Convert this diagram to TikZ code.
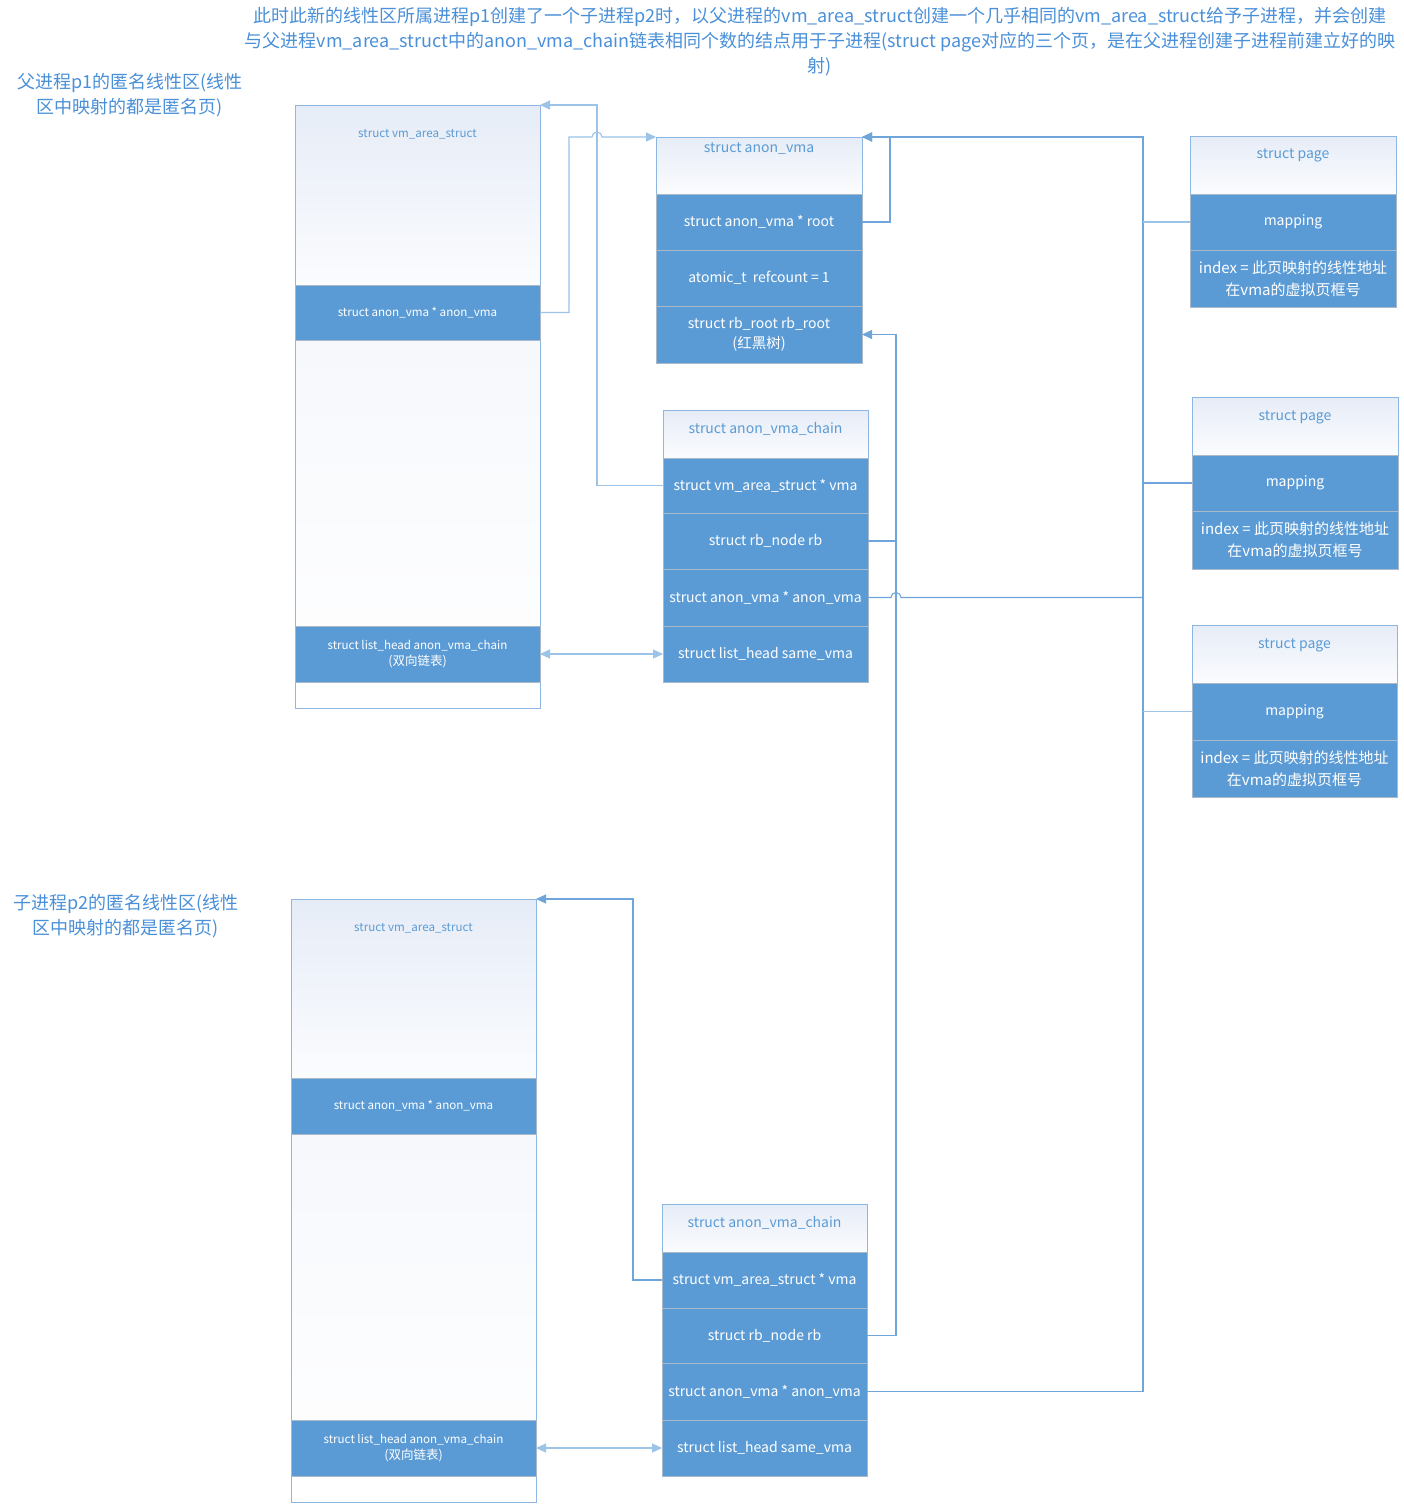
\documentclass[tikz,border=0pt]{standalone}
\usepackage{fontspec}
\setmainfont{Noto Sans CJK SC}
\usetikzlibrary{arrows.meta,calc}
\definecolor{rowblue}{HTML}{5B9BD5}
\definecolor{rowbd}{HTML}{AAB9CA}
\definecolor{bordc}{HTML}{8DB6E2}
\definecolor{hdrA}{HTML}{E6ECF7}
\definecolor{hdrB}{HTML}{FBFCFE}
\definecolor{titc}{HTML}{5B9BD5}
\definecolor{lnc}{HTML}{6FA5DA}
\definecolor{lnl}{HTML}{9CC3E8}
\definecolor{notec}{HTML}{4A90D9}
\newcommand{\szS}{\fontsize{11.6}{16}\selectfont}
\newcommand{\szSc}{\fontsize{12.5}{16}\selectfont}
\newcommand{\szM}{\fontsize{14}{20}\selectfont}
\newcommand{\szMc}{\fontsize{14.5}{20}\selectfont}
\newcommand{\szL}{\fontsize{15}{22}\selectfont}
\newcommand{\szX}{\fontsize{18}{25}\selectfont}
\tikzset{
 box/.style={anchor=north west, inner sep=0pt, outer sep=0pt},
 outer/.style={box, draw=bordc, line width=1pt, top color=hdrA!60, bottom color=white},
 hdr/.style={box, draw=bordc, line width=1pt, top color=hdrA, bottom color=hdrB},
 row/.style={box, draw=rowbd, line width=1pt, fill=rowblue, text=white, align=center},
 ttl/.style={text=titc, inner sep=0pt},
 conn/.style={draw=lnc, line width=1.1pt},
 connl/.style={draw=lnl, line width=1.1pt},
 tip/.style={-{Triangle[length=10pt,width=9pt]}},
 dtip/.style={{Triangle[length=10pt,width=9pt]}-{Triangle[length=10pt,width=9pt]}},
}
\begin{document}
\begin{tikzpicture}[x=1pt,y=-1pt]
\useasboundingbox (0,0) rectangle (1404,1504);
\fill[white] (0,0) rectangle (1404,1504);

% ---------- texts ----------
\node[text=notec, align=center, font=\szX, inner sep=0pt] (note) at (820,42)
 {此时此新的线性区所属进程p1创建了一个子进程p2时，以父进程的vm\_area\_struct创建一个几乎相同的vm\_area\_struct给予子进程，并会创建\\
  与父进程vm\_area\_struct中的anon\_vma\_chain链表相同个数的结点用于子进程(struct page对应的三个页，是在父进程创建子进程前建立好的映\\
  射)};
\node[text=notec, align=center, font=\szX, inner sep=0pt] (lblp) at (130,95)
 {父进程p1的匿名线性区(线性\\区中映射的都是匿名页)};
\node[text=notec, align=center, font=\szX, inner sep=0pt] (lblc) at (126,916)
 {子进程p2的匿名线性区(线性\\区中映射的都是匿名页)};

% ---------- parent vm_area_struct ----------
\node[outer, minimum width=245, minimum height=603] (pvma) at (295,105) {};
\node[hdr, minimum width=245, minimum height=180] (pvh) at (295,105) {};
\node[ttl, font=\szS] (pvt) at ([yshift=-29pt]pvh.north) {struct vm\_area\_struct};
\node[row, font=\szS, minimum width=245, minimum height=55] (pva) at (295,285) {struct anon\_vma * anon\_vma};
\node[row, font=\szS, minimum width=245, minimum height=56] (pvl) at (295,626) {struct list\_head anon\_vma\_chain\\{\szSc(双向链表)}};

% ---------- anon_vma ----------
\node[hdr, minimum width=206, minimum height=57] (avh) at (656,137) {};
\node[ttl, font=\szM] (avt) at ([yshift=-12pt]avh.north) {struct anon\_vma};
\node[row, font=\szM, minimum width=206, minimum height=56] (avroot) at (656,194) {struct anon\_vma * root};
\node[row, font=\szM, minimum width=206, minimum height=56] (avref) at (656,250) {atomic\_t\ \ refcount = 1};
\node[row, font=\szM, minimum width=206, minimum height=57] (avrb) at (656,306) {struct rb\_root rb\_root\\{\szMc(红黑树)}};

% ---------- parent anon_vma_chain ----------
\node[hdr, minimum width=205, minimum height=48] (c1h) at (663,410) {};
\node[ttl, font=\szM] (c1t) at ([yshift=-19pt]c1h.north) {struct anon\_vma\_chain};
\node[row, font=\szM, minimum width=205, minimum height=55] (c1vma) at (663,458) {struct vm\_area\_struct * vma};
\node[row, font=\szM, minimum width=205, minimum height=56] (c1rb) at (663,513) {struct rb\_node rb};
\node[row, font=\szM, minimum width=205, minimum height=57] (c1av) at (663,569) {struct anon\_vma * anon\_vma};
\node[row, font=\szM, minimum width=205, minimum height=56] (c1same) at (663,626) {struct list\_head same\_vma};

% ---------- pages ----------
\node[hdr, minimum width=206, minimum height=58] (p1h) at (1190,136) {};
\node[ttl, font=\szM] (p1t) at ([yshift=-19pt]p1h.north) {struct page};
\node[row, font=\szM, minimum width=206, minimum height=56] (p1map) at (1190,194) {mapping};
\node[row, font=\szL, minimum width=206, minimum height=57] (p1idx) at (1190,250) {index = 此页映射的线性地址\\在vma的虚拟页框号};

\node[hdr, minimum width=206, minimum height=58] (p2h) at (1192,397) {};
\node[ttl, font=\szM] (p2t) at ([yshift=-20pt]p2h.north) {struct page};
\node[row, font=\szM, minimum width=206, minimum height=56] (p2map) at (1192,455) {mapping};
\node[row, font=\szL, minimum width=206, minimum height=58] (p2idx) at (1192,511) {index = 此页映射的线性地址\\在vma的虚拟页框号};

\node[hdr, minimum width=205, minimum height=58] (p3h) at (1192,625) {};
\node[ttl, font=\szM] (p3t) at ([yshift=-20pt]p3h.north) {struct page};
\node[row, font=\szM, minimum width=205, minimum height=57] (p3map) at (1192,683) {mapping};
\node[row, font=\szL, minimum width=205, minimum height=57] (p3idx) at (1192,740) {index = 此页映射的线性地址\\在vma的虚拟页框号};

% ---------- child vm_area_struct ----------
\node[outer, minimum width=245, minimum height=603] (cvma) at (291,899) {};
\node[hdr, minimum width=245, minimum height=179] (cvh) at (291,899) {};
\node[ttl, font=\szS] (cvt) at ([yshift=-29pt]cvh.north) {struct vm\_area\_struct};
\node[row, font=\szS, minimum width=245, minimum height=56] (cva) at (291,1078) {struct anon\_vma * anon\_vma};
\node[row, font=\szS, minimum width=245, minimum height=56] (cvl) at (291,1420) {struct list\_head anon\_vma\_chain\\{\szSc(双向链表)}};

% ---------- child anon_vma_chain ----------
\node[hdr, minimum width=205, minimum height=48] (c2h) at (662,1204) {};
\node[ttl, font=\szM] (c2t) at ([yshift=-19pt]c2h.north) {struct anon\_vma\_chain};
\node[row, font=\szM, minimum width=205, minimum height=56] (c2vma) at (662,1252) {struct vm\_area\_struct * vma};
\node[row, font=\szM, minimum width=205, minimum height=55] (c2rb) at (662,1308) {struct rb\_node rb};
\node[row, font=\szM, minimum width=205, minimum height=57] (c2av) at (662,1363) {struct anon\_vma * anon\_vma};
\node[row, font=\szM, minimum width=205, minimum height=56] (c2same) at (662,1420) {struct list\_head same\_vma};

% ---------- helper coordinates ----------
\coordinate (vx) at (597,105);
\coordinate (cvx) at (633,899);
\coordinate (rbx) at (896,334.5);
\coordinate (trunk) at (1143,137);

% ---------- connectors ----------
\draw[connl, tip] (c1vma.west) -| (vx) -- (pvh.north east);
\draw[connl, tip] (pva.east) -- (569,312.5) -- (569,137) -- (592,137)
   arc[start angle=180, end angle=0, radius=5pt] -- (avh.north west);
\draw[conn, tip] (avroot.east) -- (890,222) |- (avh.north east);
\draw[conn, tip] (c1rb.east) -| (rbx) -- (avrb.east);
\draw[conn] (c2rb.east) -| (c1rb.east -| rbx);
\draw[conn, tip, line width=1.7pt] (c2av.east) -| (trunk) -- (avh.north east);
\draw[conn] (c1av.east) -- (891,597.5) arc[start angle=180, end angle=0, radius=5pt] -- (c1av.east -| trunk);
\draw[connl] (p1map.west) -- (p1map.west -| trunk);
\draw[conn] (p2map.west) -- (p2map.west -| trunk);
\draw[connl] (p3map.west) -- (p3map.west -| trunk);
\draw[connl, dtip] (pvl.east) -- (c1same.west);
\draw[connl, dtip] (cvl.east) -- (c2same.west);
\draw[conn, tip] (c2vma.west) -| (cvx) -- (cvh.north east);
\end{tikzpicture}
\end{document}
